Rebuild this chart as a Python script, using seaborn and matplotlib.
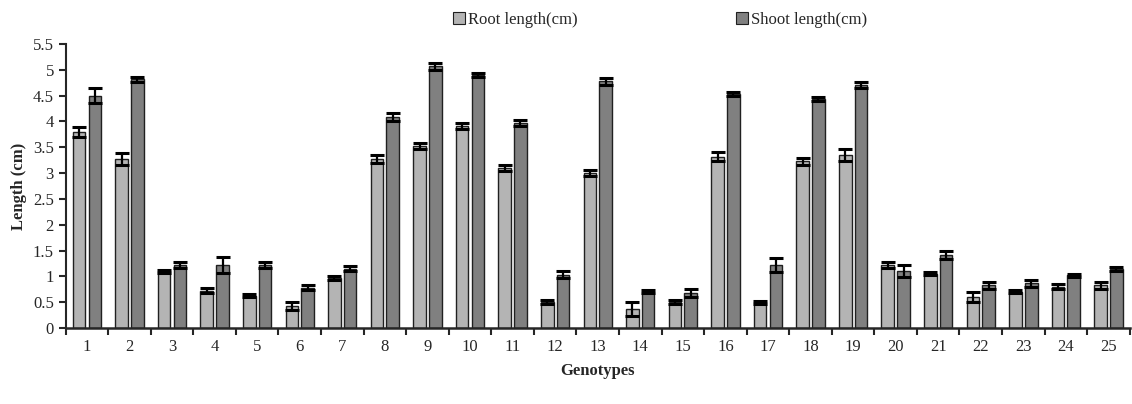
import numpy as np
import pandas as pd
import seaborn as sns
import matplotlib.pyplot as plt
from matplotlib.patches import Patch

# Values
genotypes = [str(i) for i in range(1, 26)]
root_len = [3.80, 3.27, 1.10, 0.72, 0.63, 0.42, 0.97, 3.27, 3.53, 3.92,
            3.10, 0.50, 3.00, 0.37, 0.50, 3.32, 0.50, 3.23, 3.35, 1.22,
            1.05, 0.60, 0.70, 0.80, 0.83]
root_err = [0.10, 0.12, 0.03, 0.05, 0.03, 0.08, 0.03, 0.08, 0.06, 0.06,
            0.06, 0.04, 0.06, 0.13, 0.04, 0.08, 0.03, 0.07, 0.12, 0.06,
            0.03, 0.09, 0.03, 0.05, 0.07]
shoot_len = [4.50, 4.82, 1.22, 1.22, 1.22, 0.78, 1.15, 4.08, 5.07, 4.90,
             3.97, 1.03, 4.78, 0.70, 0.68, 4.54, 1.22, 4.44, 4.71, 1.10,
             1.42, 0.83, 0.87, 1.02, 1.15]
shoot_err = [0.15, 0.05, 0.05, 0.15, 0.05, 0.05, 0.05, 0.08, 0.07, 0.03,
             0.05, 0.07, 0.07, 0.03, 0.07, 0.04, 0.13, 0.04, 0.06, 0.12,
             0.08, 0.07, 0.07, 0.03, 0.04]
series = ["Root length(cm)", "Shoot length(cm)"]
colors = ["#b4b4b4", "#808080"]

df = pd.DataFrame({
    "Genotypes": genotypes * 2,
    "Length": root_len + shoot_len,
    "err": root_err + shoot_err,
    "Series": [series[0]] * 25 + [series[1]] * 25,
})

sns.set_style("ticks")
plt.rcParams["font.family"] = ["Liberation Serif", "DejaVu Serif"]

fig = plt.figure(figsize=(11.32, 4.04), dpi=100)
ax = fig.add_axes([0.058, 0.188, 0.94, 0.703])

sns.barplot(data=df, x="Genotypes", y="Length", hue="Series",
            palette=colors, width=0.74, gap=0.2, edgecolor="#202020",
            linewidth=1.0, errorbar=None, legend=False, ax=ax)

# error bars on top of each bar
for cont, errs in zip(ax.containers, [root_err, shoot_err]):
    xs = [p.get_x() + p.get_width() / 2 for p in cont.patches]
    ys = [p.get_height() for p in cont.patches]
    ax.errorbar(xs, ys, yerr=errs, fmt="none", ecolor="black",
                elinewidth=1.6, capsize=5, capthick=2.2, zorder=5)

ax.set_xlim(-0.5, 24.5)
ax.set_ylim(0, 5.5)
ax.set_yticks(np.arange(0, 5.51, 0.5))
ax.set_yticklabels(["0", "0.5", "1", "1.5", "2", "2.5", "3", "3.5", "4",
                    "4.5", "5", "5.5"])
ax.set_xticks(range(25))
ax.set_xticklabels(genotypes)
ax.set_xticks(np.arange(-0.5, 25, 1), minor=True)
ax.tick_params(axis="x", which="major", length=0, labelsize=12, pad=8)
ax.tick_params(axis="x", which="minor", length=5, width=1.5, direction="out")
ax.tick_params(axis="y", length=5, width=1.5, labelsize=12)
for s in ["top", "right"]:
    ax.spines[s].set_visible(False)
ax.spines["left"].set_linewidth(1.5)
ax.spines["bottom"].set_linewidth(1.8)

ax.set_xlabel("Genotypes", fontsize=12, fontweight="bold", labelpad=6)
ax.set_ylabel("Length (cm)", fontsize=12, fontweight="bold", labelpad=4)

handles = [Patch(facecolor=c, edgecolor="#202020", linewidth=0.8) for c in colors]
fig.legend(handles, series, loc="upper center", bbox_to_anchor=(0.583, 1.008),
           ncol=2, frameon=False, fontsize=12, handlelength=0.7,
           handleheight=0.7, handletextpad=0.2, columnspacing=9.5)

fig.savefig("out.png", dpi=100)
